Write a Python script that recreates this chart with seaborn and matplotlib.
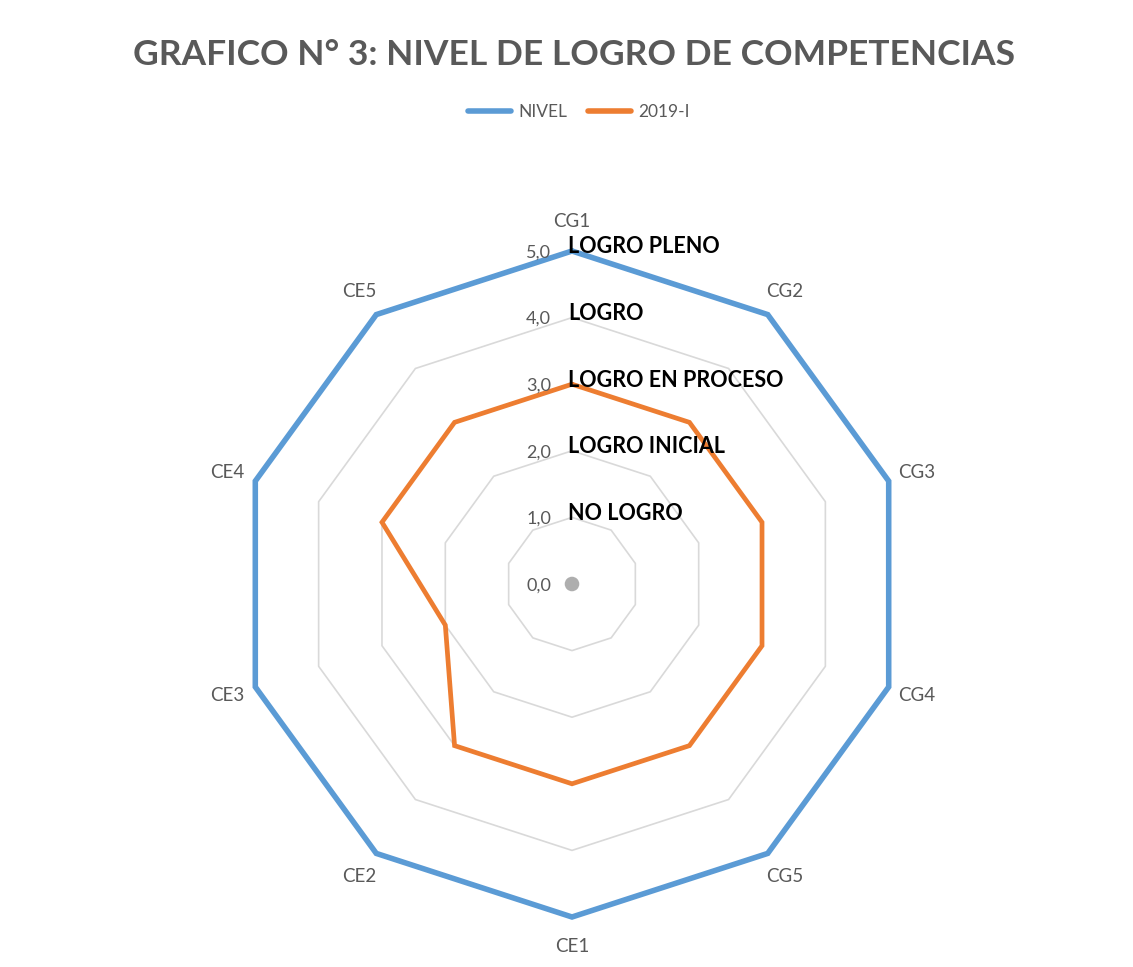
import numpy as np
import pandas as pd
import matplotlib
matplotlib.use("Agg")
import matplotlib.pyplot as plt
import seaborn as sns
from matplotlib.lines import Line2D

categories = ["CG1", "CG2", "CG3", "CG4", "CG5", "CE1", "CE2", "CE3", "CE4", "CE5"]
nivel = [5, 5, 5, 5, 5, 5, 5, 5, 5, 5]
s2019 = [3, 3, 3, 3, 3, 3, 3, 2, 3, 3]
series_names = ["NIVEL", "2019-I"]
r_ticks = [0, 1, 2, 3, 4, 5]
r_tick_labels = ["0,0", "1,0", "2,0", "3,0", "4,0", "5,0"]
level_names = ["NO LOGRO", "LOGRO INICIAL", "LOGRO EN PROCESO", "LOGRO", "LOGRO PLENO"]
level_values = [1, 2, 3, 4, 5]

sns.set_theme(style="white")
plt.rcParams['font.family'] = ['Lato', 'DejaVu Sans']

GRAY = "#595959"
BLUE = "#5B9BD5"
ORANGE = "#ED7D31"
GRID = "#D9D9D9"

n = len(categories)
angles = np.linspace(0, 2 * np.pi, n, endpoint=False)

rows = []
for name, vals in zip(series_names, [nivel, s2019]):
    for k, i in enumerate(list(range(n)) + [0]):
        th = 2 * np.pi if k == n else angles[i]
        rows.append({"serie": name, "theta": th, "r": vals[i]})
df = pd.DataFrame(rows)

fig = plt.figure(figsize=(11.33, 9.67), dpi=100)
W, H = 1133, 967
cx, cy, R = 572, 584, 333
ax = fig.add_axes([(cx - R) / W, (H - cy - R) / H, 2 * R / W, 2 * R / H], projection="polar")
ax.set_theta_zero_location("N")
ax.set_theta_direction(-1)
ax.set_ylim(0, 5)
ax.grid(False)
ax.spines["polar"].set_visible(False)
ax.set_yticks([])

# decagon gridlines
for v in r_ticks[1:]:
    th = np.append(angles, angles[0])
    ax.plot(th, [v] * (n + 1), color=GRID, lw=1.2, zorder=1, clip_on=False)

sns.lineplot(data=df, x="theta", y="r", hue="serie", sort=False, estimator=None,
             palette={"NIVEL": BLUE, "2019-I": ORANGE}, ax=ax, legend=False,
             units="serie", zorder=3)
for line, lw in zip(ax.get_lines()[-2:], [4.0, 3.4]):
    line.set_linewidth(lw)
    line.set_clip_on(False)
    line.set_solid_joinstyle("miter")

ax.scatter([0], [0], s=110, color="#9a9a9a", alpha=0.8, zorder=4, edgecolors="none")

ax.set_xticks(angles)
ax.set_xticklabels(categories, color=GRAY, fontsize=13.5)
ax.tick_params(axis="x", pad=8)
ax.set_xlabel("")
ax.set_ylabel("")

for v, lab in zip(r_ticks, r_tick_labels):
    ax.annotate(lab, xy=(0, v), xytext=(-15, -1), textcoords="offset points",
                ha="right", va="center", color=GRAY, fontsize=13, annotation_clip=False)

for v, lab in zip(level_values, level_names):
    ax.annotate(lab, xy=(0, v), xytext=(-3, 3), textcoords="offset points",
                ha="left", va="center", color="black", fontsize=15.5, fontweight="bold",
                annotation_clip=False, zorder=5)

fig.suptitle("GRAFICO N° 3: NIVEL DE LOGRO DE COMPETENCIAS", x=0.507, y=1 - 55 / H,
             va="center", fontsize=25.5, fontweight="bold", color=GRAY)

handles = [Line2D([], [], color=BLUE, lw=4), Line2D([], [], color=ORANGE, lw=4)]
fig.legend(handles, series_names, loc="center", bbox_to_anchor=(0.511, 1 - 112 / H),
           ncol=2, frameon=False, fontsize=12.5, labelcolor=GRAY, handlelength=2.5,
           columnspacing=1.2, handletextpad=0.4)

fig.savefig("out.png", dpi=100)
